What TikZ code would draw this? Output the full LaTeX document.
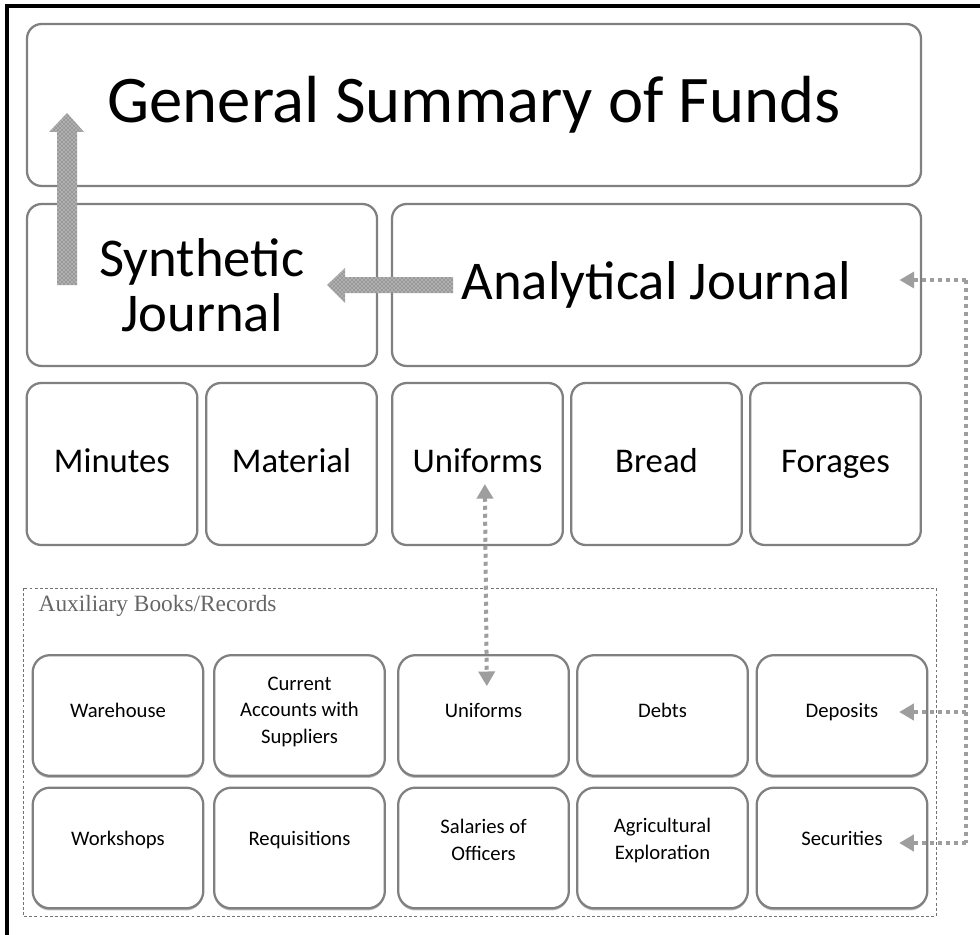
\documentclass[tikz,border=0pt]{standalone}
\usepackage{fontspec}
\setmainfont{Carlito}
\newfontfamily\serifnote{Liberation Serif}
\usetikzlibrary{arrows.meta,patterns,shadows}

\begin{document}
\begin{tikzpicture}[
        % 1 единица = 1 пиксель, ось y вниз
        x=0.75pt, y=-0.75pt,
        % Стиль для больших блоков
        box/.style={
            draw=black!50, 
            line width=1.7pt, 
            rounded corners=11pt,
            fill=white,
            inner sep=0pt,
            align=center
        },
        % Блоки вспомогательных книг (с тенью)
        auxbox/.style={
            box,
            rounded corners=13pt,
            minimum width=128pt, 
            minimum height=90.5pt,
            text height=11pt,
            text depth=8pt,
            font=\fontsize{15.5}{20}\selectfont,
            drop shadow={shadow xshift=0pt, shadow yshift=-1.6pt, opacity=0.45, fill=black!60}
        },
        % Нижний ряд: текст чуть выше
        auxlow/.style={auxbox, text depth=15pt},
        % Многострочный текст
        lines/.style={text height={}, text depth=#1},
        % Стиль для средних блоков
        midbox/.style={
            box,
            minimum width=128pt, 
            minimum height=121.5pt,
            text height=18pt,
            text depth=6pt,
            font=\fontsize{26}{30}\selectfont
        },
        % Пунктирные связи
        link/.style={
            draw=black!38, 
            line width=3pt,
            dash pattern=on 3pt off 3pt
        },
        linktip/.style={
            link,
            -{Triangle[length=11pt,width=12pt]}
        },
        % Толстые стрелки с узором
        fatarrow/.style={
            draw=none,
            preaction={fill=black!40},
            pattern=crosshatch dots, 
            pattern color=white
        }
    ]

        \useasboundingbox (0,0) rectangle (980,934);

        % Рамка (верх и левый край)
        \draw[line width=2.3pt] (7,950) -- (7,6) -- (995,6);

        % Верхний уровень
        \node[box, minimum width=670.5pt, minimum height=121.5pt,
              font=\fontsize{50}{56}\selectfont] (summary) at (474,105) {General Summary of Funds};

        % Журналы
        \node[box, minimum width=262.5pt, minimum height=121.5pt,
              font=\fontsize{41}{41}\selectfont] (synthetic) at (202,285) {Synthetic\\Journal};
        \node[box, minimum width=396.75pt, minimum height=121.5pt,
              font=\fontsize{41}{46}\selectfont] (analytical) at (656.5,285) {Analytical Journal};

        % Средний ряд
        \node[midbox] (minutes)  at (112,464)   {Minutes};
        \node[midbox] (material) at (291.5,464) {Material};
        \node[midbox] (uniforms) at (477.5,464) {Uniforms};
        \node[midbox] (bread)    at (656.5,464) {Bread};
        \node[midbox] (forages)  at (835.5,464) {Forages};

        % Вспомогательные книги
        \draw[black!55, line width=0.6pt, dash pattern=on 2.2pt off 1.6pt] (23,588) rectangle (936,916);
        \node[anchor=west, text=black!60, font=\serifnote\fontsize{17.5}{20}\selectfont] (auxtitle) at (34,606) {Auxiliary Books/Records};

        \node[auxbox] (warehouse)  at (118,715.5)   {Warehouse};
        \node[auxbox, lines=8pt] (suppliers)  at (299.5,715.5) {Current\\Accounts with\\Suppliers};
        \node[auxbox] (auxuniform) at (483.5,715.5) {Uniforms};
        \node[auxbox] (debts)      at (662.5,715.5) {Debts};
        \node[auxbox] (deposits)   at (842,715.5)   {Deposits};

        \node[auxlow] (workshops)    at (118,848)   {Workshops};
        \node[auxlow] (requisitions) at (299.5,848) {Requisitions};
        \node[auxlow, lines=12pt] (salaries)     at (483.5,848) {Salaries of\\Officers};
        \node[auxlow, lines=14pt] (agricultural) at (662.5,848) {Agricultural\\Exploration};
        \node[auxlow] (securities)   at (842,848)   {Securities};

        % Толстые стрелки
        \fill[fatarrow] (57,285) -- (57,132) -- (49,132) -- (67,113) -- (84,132) -- (77,132) -- (77,285) -- cycle;
        \fill[fatarrow] (453,277) -- (345,277) -- (345,268) -- (327,285) -- (345,303) -- (345,293) -- (453,293) -- cycle;

        % Связь Uniforms <-> Uniforms
        \draw[link, {Triangle[length=11pt,width=12pt]}-{Triangle[length=11pt,width=12pt]}]
            ([xshift=5.5pt, yshift=-15pt]uniforms.center) -- ([xshift=2.5pt, yshift=22pt]auxuniform.center);

        % Правая шина
        \coordinate (busA) at (966,280);
        \coordinate (busB) at (966,712);
        \coordinate (busC) at (966,843);
        \draw[link] (busA) -- (busC);
        \draw[linktip] (busA) -- ([xshift=-17pt]analytical.east |- busA);
        \draw[linktip] (busB) -- ([xshift=-22pt]deposits.east |- busB);
        \draw[linktip] (busC) -- ([xshift=-22pt]securities.east |- busC);

    \end{tikzpicture}
\end{document}
